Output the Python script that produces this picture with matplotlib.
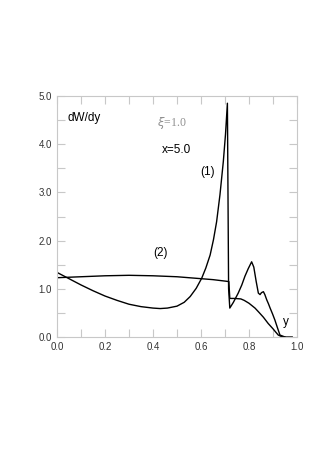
import numpy as np
import matplotlib.pyplot as plt
from matplotlib.ticker import MultipleLocator

# curve (1)
y1 = [0.0, 0.05, 0.1, 0.15, 0.2, 0.25, 0.3, 0.35, 0.4, 0.43, 0.46, 0.5, 0.53, 0.555, 0.58,
      0.603, 0.62, 0.638, 0.652, 0.665, 0.679, 0.693, 0.702, 0.71, 0.715, 0.72, 0.735,
      0.755, 0.77, 0.783, 0.797, 0.811, 0.82, 0.83, 0.839, 0.846, 0.852, 0.86, 0.866,
      0.874, 0.881, 0.888, 0.898, 0.908, 0.918, 0.929, 0.95, 0.98]
w1 = [1.34, 1.21, 1.08, 0.96, 0.85, 0.76, 0.68, 0.63, 0.60, 0.59, 0.60, 0.64, 0.72, 0.84, 1.01,
      1.22, 1.43, 1.70, 2.02, 2.39, 2.95, 3.64, 4.20, 4.85, 1.00, 0.60, 0.72,
      0.91, 1.08, 1.26, 1.42, 1.56, 1.45, 1.15, 0.91, 0.88, 0.92, 0.94, 0.88,
      0.77, 0.69, 0.60, 0.48, 0.35, 0.20, 0.04, 0.0, 0.0]

# curve (2)
y2 = [0.0, 0.1, 0.2, 0.3, 0.4, 0.5, 0.6, 0.65, 0.70, 0.716, 0.72, 0.74, 0.766, 0.78,
      0.80, 0.825, 0.84, 0.86, 0.88, 0.90, 0.91, 0.922, 0.935, 0.95]
w2 = [1.23, 1.25, 1.27, 1.28, 1.27, 1.25, 1.21, 1.19, 1.16, 1.15, 0.80, 0.80, 0.79, 0.76,
      0.70, 0.60, 0.52, 0.41, 0.28, 0.17, 0.11, 0.04, 0.01, 0.0]

fig = plt.figure(figsize=(3.15, 4.54), dpi=100)
ax = fig.add_axes([57 / 315, 1 - 337 / 454, 240 / 315, 241 / 454])

ax.plot(y1, w1, color='black', lw=1.0)
ax.plot(y2, w2, color='black', lw=1.0)

ax.set_xlim(0, 1)
ax.set_ylim(0, 5)
ax.xaxis.set_major_locator(MultipleLocator(0.2))
ax.xaxis.set_minor_locator(MultipleLocator(0.1))
ax.yaxis.set_major_locator(MultipleLocator(1.0))
ax.yaxis.set_minor_locator(MultipleLocator(0.5))
ax.xaxis.set_major_formatter(plt.FormatStrFormatter('%.1f'))
ax.yaxis.set_major_formatter(plt.FormatStrFormatter('%.1f'))

grey = '#c8c8c8'
for s in ax.spines.values():
    s.set_color(grey)
    s.set_linewidth(0.8)
ax.tick_params(which='both', direction='in', top=True, right=True, color=grey,
               length=6, width=0.8, labelsize=7, labelcolor='#333333')
for lab in ax.get_xticklabels() + ax.get_yticklabels():
    lab.set_family('Liberation Sans')

fs = 8.5
ax.text(0.045, 4.55, 'dW/dy', fontsize=fs, family='Liberation Sans', va='center')
ax.text(0.417, 4.44, r'$\xi$=1.0', fontsize=fs, family='Liberation Serif',
        color='#909090', va='center')
ax.text(0.4375, 3.88, 'x=5.0', fontsize=fs, family='Liberation Sans', va='center')
ax.text(0.596, 3.42, '(1)', fontsize=fs, family='Liberation Sans', va='center')
ax.text(0.40, 1.74, '(2)', fontsize=fs, family='Liberation Sans', va='center')
ax.text(0.94, 0.31, 'y', fontsize=fs, family='Liberation Sans', va='center')

fig.savefig('out.png', dpi=100)
